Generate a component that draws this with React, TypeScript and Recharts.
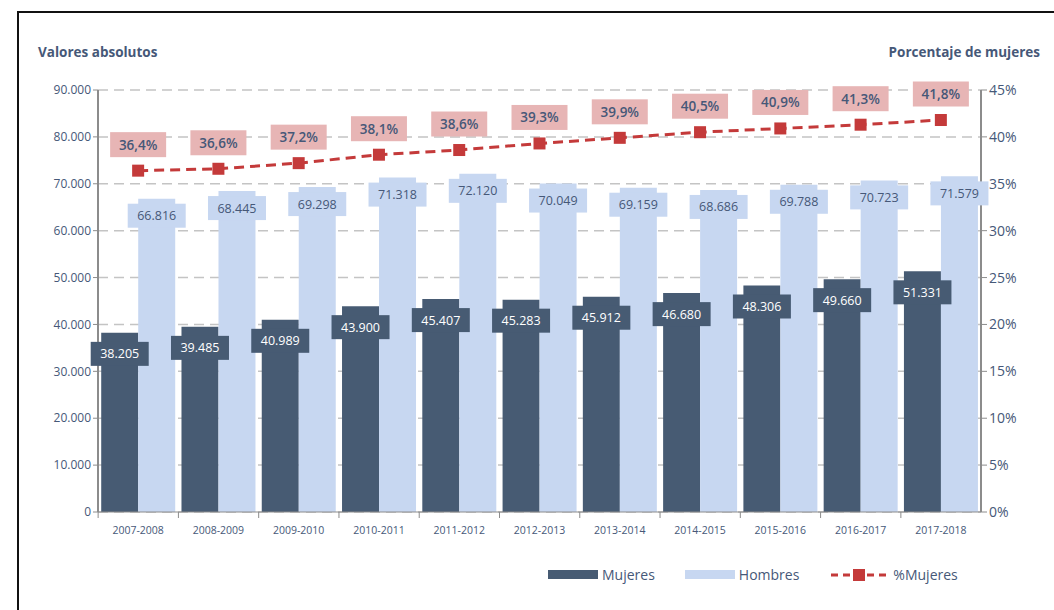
import React from 'react';
import {
  ComposedChart,
  Bar,
  Line,
  XAxis,
  YAxis,
  CartesianGrid,
  LabelList,
} from 'recharts';

const cursos = [
  '2007-2008', '2008-2009', '2009-2010', '2010-2011', '2011-2012', '2012-2013',
  '2013-2014', '2014-2015', '2015-2016', '2016-2017', '2017-2018',
];
const mujeres = [38205, 39485, 40989, 43900, 45407, 45283, 45912, 46680, 48306, 49660, 51331];
const hombres = [66816, 68445, 69298, 71318, 72120, 70049, 69159, 68686, 69788, 70723, 71579];
const pctMujeres = [36.4, 36.6, 37.2, 38.1, 38.6, 39.3, 39.9, 40.5, 40.9, 41.3, 41.8];
const leftTicks = [0, 10000, 20000, 30000, 40000, 50000, 60000, 70000, 80000, 90000];
const rightTicks = [0, 5, 10, 15, 20, 25, 30, 35, 40, 45];

const COLORS = {
  mujeres: '#475b73',
  hombres: '#c7d7f1',
  line: '#c43a3a',
  pctBox: '#e7b5b5',
  text: '#465878',
  axis: '#8c8c8c',
  grid: '#c4c4c4',
};

const FONT = '"Open Sans", "Liberation Sans", sans-serif';

const data = cursos.map((c, i) => ({
  curso: c,
  mujeres: mujeres[i],
  hombres: hombres[i],
  pct: pctMujeres[i],
}));

const fmtMiles = (v: number) => v.toLocaleString('de-DE');
const fmtPct = (v: number) => v.toFixed(1).replace('.', ',') + '%';

function BarLabel(props: any) {
  const { x, y, width, value, boxFill, textFill, dy } = props;
  const cx = x + width / 2;
  const cy = y + dy;
  const w = 58;
  const h = 24;
  return (
    <g>
      <rect x={cx - w / 2} y={cy - h / 2} width={w} height={h} fill={boxFill} />
      <text
        x={cx}
        y={cy}
        textAnchor="middle"
        dominantBaseline="central"
        fontSize={12.5}
        fontFamily={FONT}
        fill={textFill}
      >
        {fmtMiles(value)}
      </text>
    </g>
  );
}

function PctLabel(props: any) {
  const { x, y, value } = props;
  const w = 56;
  const h = 25;
  const cy = y - 26;
  return (
    <g>
      <rect x={x - w / 2} y={cy - h / 2} width={w} height={h} fill={COLORS.pctBox} />
      <text
        x={x}
        y={cy}
        textAnchor="middle"
        dominantBaseline="central"
        fontSize={13.5}
        fontWeight={600}
        fontFamily={FONT}
        fill={COLORS.text}
      >
        {fmtPct(value)}
      </text>
    </g>
  );
}

function SquareDot(props: any) {
  const { cx, cy, index } = props;
  if (cx == null || cy == null) return null;
  return <rect key={index} x={cx - 6} y={cy - 6} width={12} height={12} fill={COLORS.line} />;
}

function XTick(props: any) {
  const { x, y, payload } = props;
  const half = 40;
  return (
    <g>
      <line x1={x - half} y1={y - 8} x2={x - half} y2={y - 2} stroke={COLORS.axis} />
      <text
        x={x}
        y={y + 14}
        textAnchor="middle"
        fontSize={10.5}
        fontFamily={FONT}
        fill={COLORS.text}
      >
        {payload.value}
      </text>
    </g>
  );
}

function LegendBox() {
  const item = { display: 'flex', alignItems: 'center', gap: 4 } as const;
  return (
    <div
      style={{
        position: 'absolute',
        left: 548,
        top: 565,
        display: 'flex',
        gap: 30,
        fontFamily: FONT,
        fontSize: 14,
        color: COLORS.text,
        alignItems: 'center',
      }}
    >
      <div style={item}>
        <div style={{ width: 50, height: 9, background: COLORS.mujeres }} />
        <span>Mujeres</span>
      </div>
      <div style={item}>
        <div style={{ width: 50, height: 9, background: COLORS.hombres }} />
        <span>Hombres</span>
      </div>
      <div style={item}>
        <svg width={60} height={14}>
          <line x1={2} y1={7} x2={58} y2={7} stroke={COLORS.line} strokeWidth={3} strokeDasharray="7 5" />
          <rect x={24} y={1} width={12} height={12} fill={COLORS.line} />
        </svg>
        <span>%Mujeres</span>
      </div>
    </div>
  );
}

export default function App() {
  return (
    <div
      style={{
        position: 'absolute',
        left: 0,
        top: 0,
        width: 1054,
        height: 610,
        background: '#fff',
        overflow: 'hidden',
      }}
    >
      <div
        style={{
          position: 'absolute',
          left: 17,
          top: 11,
          width: 1100,
          height: 700,
          border: '2px solid #111',
        }}
      />
      <div
        style={{
          position: 'absolute',
          left: 38,
          top: 43,
          fontFamily: FONT,
          fontWeight: 700,
          fontSize: 13.5,
          color: COLORS.text,
        }}
      >
        Valores absolutos
      </div>
      <div
        style={{
          position: 'absolute',
          right: 14,
          top: 43,
          fontFamily: FONT,
          fontWeight: 700,
          fontSize: 13.5,
          color: COLORS.text,
        }}
      >
        Porcentaje de mujeres
      </div>
      <ComposedChart
        width={1054}
        height={610}
        data={data}
        margin={{ top: 90, right: 13, bottom: 68, left: 38 }}
        barGap={0}
        barCategoryGap="4%"
        style={{ position: 'absolute', left: 0, top: 0 }}
      >
        <CartesianGrid
          horizontal
          vertical={false}
          stroke={COLORS.grid}
          strokeDasharray="10 6"
          strokeWidth={1.5}
          yAxisId="left"
        />
        <XAxis
          dataKey="curso"
          axisLine={{ stroke: COLORS.axis }}
          tickLine={false}
          tick={<XTick />}
          interval={0}
          height={30}
        />
        <YAxis
          yAxisId="left"
          domain={[0, 90000]}
          ticks={leftTicks}
          tickFormatter={fmtMiles}
          width={60}
          axisLine={{ stroke: COLORS.axis, strokeWidth: 2 }}
          tickLine={{ stroke: COLORS.axis }}
          tickSize={5}
          tick={{ fill: COLORS.text, fontSize: 12, fontFamily: FONT }}
        />
        <YAxis
          yAxisId="right"
          orientation="right"
          domain={[0, 45]}
          ticks={rightTicks}
          tickFormatter={(v: number) => `${v}%`}
          width={60}
          axisLine={{ stroke: COLORS.axis, strokeWidth: 2 }}
          tickLine={{ stroke: COLORS.axis }}
          tickSize={6}
          tick={{ fill: COLORS.text, fontSize: 14, fontFamily: FONT }}
        />
        <Bar yAxisId="left" dataKey="mujeres" name="Mujeres" fill={COLORS.mujeres} isAnimationActive={false}>
          <LabelList
            dataKey="mujeres"
            content={<BarLabel boxFill={COLORS.mujeres} textFill="#ffffff" dy={21} />}
          />
        </Bar>
        <Bar yAxisId="left" dataKey="hombres" name="Hombres" fill={COLORS.hombres} isAnimationActive={false}>
          <LabelList
            dataKey="hombres"
            content={<BarLabel boxFill={COLORS.hombres} textFill={COLORS.text} dy={17} />}
          />
        </Bar>
        <Line
          yAxisId="right"
          type="linear"
          dataKey="pct"
          name="%Mujeres"
          stroke={COLORS.line}
          strokeWidth={3}
          strokeDasharray="10 6"
          dot={<SquareDot />}
          activeDot={false}
          isAnimationActive={false}
        >
          <LabelList dataKey="pct" content={<PctLabel />} />
        </Line>
      </ComposedChart>
      <LegendBox />
    </div>
  );
}
